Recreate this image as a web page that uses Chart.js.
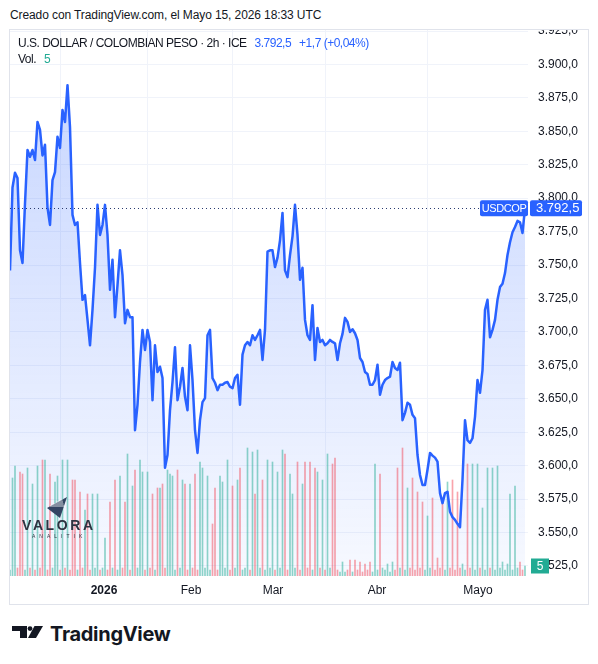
<!DOCTYPE html>
<html><head><meta charset="utf-8">
<script src="https://cdn.jsdelivr.net/npm/chart.js@4.4.1/dist/chart.umd.min.js"></script>
<style>
html,body{margin:0;padding:0;background:#fff;width:598px;height:664px;overflow:hidden;font-family:"Liberation Sans",Arial,sans-serif;color:#131722}
#title{position:absolute;left:10px;top:8px;font-size:12px;line-height:14px;white-space:nowrap;letter-spacing:-0.1px}
#border{position:absolute;left:9px;top:29px;width:580px;height:576px;border:1px solid #e0e3eb;box-sizing:border-box;pointer-events:none}
#wrap{position:absolute;left:10px;top:30px;width:578px;height:574px}
#legend{position:absolute;left:18px;top:35px;font-size:12px;line-height:16px;white-space:nowrap;letter-spacing:-0.5px}
#legend .b{color:#2962ff;margin-left:8px}
#legend .g{color:#22ab94;margin-left:8px}
#tv{position:absolute;left:12px;top:622px;height:24px;white-space:nowrap}
#tv svg{position:absolute;left:0;top:4px}
#tv span{position:absolute;left:38px;top:0;font-family:Inter,Roboto,sans-serif;font-weight:700;font-size:20px;line-height:24px;color:#131722;letter-spacing:-0.3px}
</style></head>
<body>
<div id="title">Creado con TradingView.com, el Mayo 15, 2026 18:33 UTC</div>
<div id="wrap"><canvas id="c" width="578" height="574"></canvas></div>
<div id="border"></div>
<div id="legend"><div>U.S. DOLLAR / COLOMBIAN PESO · 2h · ICE<span class="b" id="lp"></span><span class="b" id="chg"></span></div><div>Vol.<span class="g" id="lv"></span></div></div>
<div id="tv"><svg width="31" height="12" viewBox="0 0 31 12"><path d="M0 0H15V12H8V5H0Z" fill="#131722"/><circle cx="18" cy="2.6" r="2.4" fill="#131722"/><path d="M22.5 0H31L24 12H16Z" fill="#131722"/></svg><span>TradingView</span></div>
<script>
// ---- data (2h bars, sampled) ----
const prices = [3746,3808,3819,3815,3761,3751.5,3796,3836,3831,3836,
3828.5,3857,3851,3832,3840,3793,3780,3813.5,3819.5,3846,
3837.5,3866,3857,3884.5,3853,3787.5,3780,3782,3751.5,3724,
3727.5,3709,3690,3716.5,3748,3795,3772.5,3780,3795,3772.5,
3731.5,3754,3711,3735,3761,3742.5,3706.5,3716.5,3711,3711,
3626.5,3645.5,3677.5,3701.5,3686.5,3701.5,3692.5,3649,3690,3670,
3674,3665.5,3598.5,3608,3641.5,3662.5,3688.5,3649,3659,3673,
3651.5,3641.5,3690,3664,3626.5,3609.5,3634,3647.5,3650.5,3697.5,
3701.5,3665.5,3662,3656.5,3660.5,3660.5,3662,3662.5,3659,3658,
3665.5,3668,3645.5,3683,3690,3692.5,3690,3697.5,3694,3697.5,
3701.5,3679,3701.5,3760,3761,3761,3748.5,3755.5,3768.5,3789,
3746,3741,3757.5,3771.5,3795,3772.5,3739,3748,3709,3697.5,
3694,3720,3679,3703,3692.5,3694,3690,3691.5,3694,3692.5,
3691.5,3679,3691.5,3698.5,3710.5,3707.5,3700,3702,3699,3694,
3680.5,3677.5,3670,3668.5,3660.5,3660.5,3664,3675.5,3653,3660.5,
3664,3665.5,3666.5,3677.5,3673,3671.5,3677,3634,3639.5,3647,
3645.5,3638,3635.5,3608,3593,3585.5,3585.5,3597,3609.5,3607.5,
3606,3603,3579.5,3572,3579.5,3580.5,3565.5,3561.5,3559.5,3556.5,
3554,3589.5,3634,3619,3617,3620.5,3636.5,3664,3654.5,3671.5,
3716.5,3724,3696,3701.5,3709,3724,3733.5,3736,3744,3757.5,
3767,3774.5,3778.5,3783,3782,3774,3792.5];
const volumes = [3,49,55,4,52,51,3,54,4,46,
3,55,4,58,58,3,51,4,47,50,
3,58,4,58,3,48,48,3,42,4,
33,41,3,41,4,41,3,4,19,3,
37,4,48,3,50,4,37,61,3,45,
53,4,58,52,3,52,4,41,3,44,
44,46,4,53,51,50,3,53,4,48,
46,3,46,4,51,3,57,54,4,50,
3,26,44,3,50,47,4,58,3,45,
4,48,54,3,4,64,3,62,41,63,
4,48,3,58,4,57,3,52,4,63,
61,3,51,41,4,57,3,46,57,4,
57,3,54,52,4,48,3,61,4,56,
59,3,2,7,2,3,8,2,8,3,
7,2,6,3,7,2,56,3,51,4,
3,6,2,7,3,54,4,64,3,44,
4,49,3,42,4,37,3,30,4,39,
3,9,4,39,3,47,4,48,3,42,
4,6,3,56,4,56,3,56,4,34,
3,54,4,54,3,55,4,7,3,6,
41,3,45,4,7,3,5];
const priceTicks = [3525,3550,3575,3600,3625,3650,3675,3700,3725,3750,3775,3800,3825,3850,3875,3900,3925];
const timeTickPos = [37.6,72.4,105.2,146.8,187.2];
const timeTickLabels = ['2026','Feb','Mar','Abr','Mayo'];
const symbol = 'USDCOP';
const changeText = '+1,7 (+0,04%)';

function fmt(v){const p=v.toFixed(1).split('.');return p[0].replace(/\B(?=(\d{3})+(?!\d))/g,'.')+','+p[1];}
const lastPrice = prices[prices.length-1];
const lastVol = volumes[volumes.length-1];
document.getElementById('lp').textContent = fmt(lastPrice);
document.getElementById('chg').textContent = changeText;
document.getElementById('lv').textContent = String(lastVol);

const FONT = '"Liberation Sans", Arial, sans-serif';
Chart.defaults.font.family = FONT;
Chart.defaults.font.size = 12;
Chart.defaults.color = '#131722';

const pricePts = prices.map((v,i)=>({x:i,y:v}));
const volPts = volumes.map((v,i)=>({x:i,y:v}));
const volColors = volumes.map((v,i)=> (i===0 || prices[i]>=prices[i-1]) ? 'rgba(34,171,148,0.5)' : 'rgba(242,54,69,0.45)');

const overlay = {
  id:'overlay',
  afterDatasetsDraw(chart){
    const ctx = chart.ctx, a = chart.chartArea;
    const ys = chart.scales.y;
    const yy = Math.round(ys.getPixelForValue(lastPrice))+0.5;
    ctx.save();
    ctx.strokeStyle = '#2a3a70';
    ctx.lineWidth = 1;
    ctx.setLineDash([1,3]);
    ctx.beginPath(); ctx.moveTo(a.left, yy); ctx.lineTo(a.right-48, yy); ctx.stroke();
    ctx.restore();
    // watermark
    ctx.save();
    ctx.fillStyle = '#2d3340';
    ctx.font = 'bold 14px ' + FONT;
    ctx.letterSpacing = '2.6px';
    ctx.textBaseline = 'middle';
    ctx.fillText('VALORA', 12, 496);
    ctx.font = '5px ' + FONT;
    ctx.letterSpacing = '4px';
    ctx.fillText('ANALITIK', 22, 507);
    ctx.letterSpacing = '0px';
    // wing icon
    ctx.fillStyle = '#334563';
    ctx.beginPath(); ctx.moveTo(57,467); ctx.lineTo(37,478); ctx.lineTo(50,488); ctx.closePath(); ctx.fill();
    ctx.strokeStyle = 'rgba(255,255,255,0.8)'; ctx.lineWidth = 1;
    for(let k=0;k<4;k++){ctx.beginPath();ctx.moveTo(40+k*3,476-k*2);ctx.lineTo(54-k*0.5,476-k*2);ctx.stroke();}
    ctx.restore();
  },
  afterDraw(chart){
    const ctx = chart.ctx, a = chart.chartArea;
    const yy = chart.scales.y.getPixelForValue(lastPrice);
    ctx.save();
    ctx.fillStyle = '#2962ff';
    ctx.beginPath(); ctx.roundRect(a.right-48, yy-8, 48, 16, 2); ctx.fill();
    ctx.beginPath(); ctx.roundRect(a.right+2, yy-8, 52, 16, 2); ctx.fill();
    ctx.fillStyle = '#fff';
    ctx.textBaseline = 'middle';
    ctx.textAlign = 'center';
    ctx.font = '11px ' + FONT;
    ctx.letterSpacing = '-0.4px';
    ctx.fillText(symbol, a.right-24, yy+0.5);
    ctx.letterSpacing = '0px';
    ctx.textAlign = 'left';
    ctx.font = '13px ' + FONT;
    ctx.fillText(fmt(lastPrice), a.right+8, yy+0.5);
    const vy = chart.scales.yv.getPixelForValue(lastVol);
    ctx.fillStyle = '#22ab94';
    ctx.fillRect(a.right+3, vy-7.5, 18, 15);
    ctx.fillStyle = '#fff';
    ctx.textAlign = 'center';
    ctx.font = '12px ' + FONT;
    ctx.fillText(String(lastVol), a.right+12, vy+0.5);
    ctx.restore();
  }
};

const ctx = document.getElementById('c').getContext('2d');
const grad = ctx.createLinearGradient(0,0,0,546);
grad.addColorStop(0,'rgba(41,98,255,0.28)');
grad.addColorStop(1,'rgba(41,98,255,0.04)');

new Chart(ctx,{
  data:{datasets:[
    {type:'line',data:pricePts,borderColor:'#2962ff',borderWidth:2.5,pointRadius:0,tension:0,fill:'start',backgroundColor:grad,order:0,yAxisID:'y',borderJoinStyle:'round'},
    {type:'bar',data:volPts,backgroundColor:volColors,barThickness:1,order:1,yAxisID:'yv'}
  ]},
  options:{
    responsive:false,animation:false,
    layout:{padding:0},
    plugins:{legend:{display:false},tooltip:{enabled:false},filler:{drawTime:'beforeDatasetsDraw'}},
    scales:{
      x:{type:'linear',min:0,max:207.2,offset:false,
        grid:{color:'#f0f3fa',drawTicks:false},border:{display:false},
        afterBuildTicks:(s)=>{s.ticks=timeTickPos.map(v=>({value:v}));},
        afterFit:(s)=>{s.height=28;s.paddingLeft=0;s.paddingRight=0;},
        ticks:{padding:7,maxRotation:0,autoSkip:false,color:'#131722',
          font:(c)=>({family:FONT,size:12,weight:(c.index===0?'bold':'normal')}),
          callback:(v,i)=>timeTickLabels[i]}
      },
      y:{type:'linear',position:'right',min:3517.5,max:3925.75,
        grid:{color:'#f0f3fa',drawTicks:false},border:{display:false},
        afterBuildTicks:(s)=>{s.ticks=priceTicks.map(v=>({value:v}));},
        afterFit:(s)=>{s.width=60;s.paddingTop=0;s.paddingBottom=0;},
        ticks:{padding:10,color:'#131722',callback:(v)=>fmt(v)}
      },
      yv:{type:'linear',display:false,min:0,max:273}
    }
  },
  plugins:[overlay]
});
</script>
</body></html>
